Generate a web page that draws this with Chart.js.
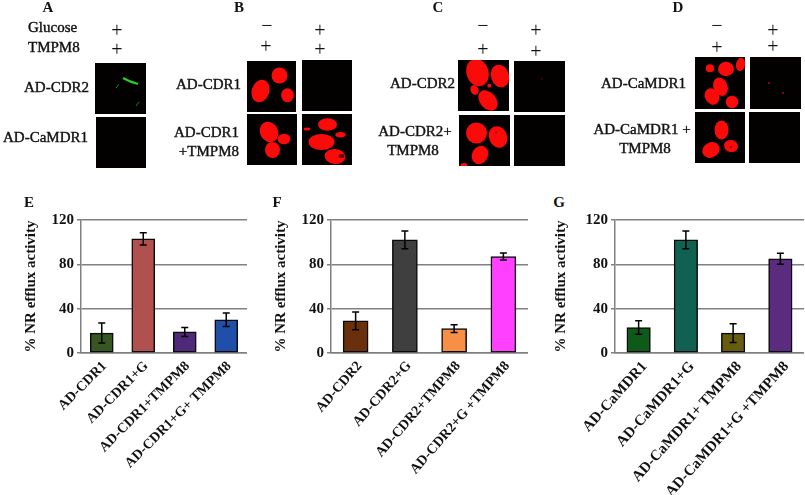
<!DOCTYPE html>
<html>
<head>
<meta charset="utf-8">
<script src="https://cdn.jsdelivr.net/npm/chart.js@4"></script>
<style>
  html, body { margin: 0; padding: 0; background: #fff; }
  #page { position: relative; width: 805px; height: 495px; overflow: hidden; font-family: "Liberation Serif", serif; color: #111; }
  #page canvas { position: absolute; }
  .t { position: absolute; white-space: nowrap; line-height: 1; font-size: 15px; -webkit-text-stroke: 0.4px #111; }
  .c { transform: translateX(-50%); text-align: center; }
  .r { transform: translateX(-100%); text-align: right; }
  .h { font-weight: bold; font-size: 15px; -webkit-text-stroke: 0; }
  .s { font-size: 15px; }
  .p { font-size: 20px; -webkit-text-stroke: 0; }
</style>
</head>
<body>
<div id="page">
  <canvas id="cells" width="805" height="180" style="left:0;top:0"></canvas>

  <div class="t h c" style="left:48px;top:0px">A</div>
  <div class="t h c" style="left:239px;top:0px">B</div>
  <div class="t h c" style="left:438px;top:0px">C</div>
  <div class="t h c" style="left:678px;top:0px">D</div>

  <div class="t s" style="left:28px;top:20px">Glucose</div>
  <div class="t s" style="left:28px;top:40px">TMPM8</div>
  <div class="t p c" style="left:117px;top:20px">+</div>
  <div class="t p c" style="left:117px;top:39px">+</div>
  <div class="t r" style="left:89px;top:80px">AD-CDR2</div>
  <div class="t r" style="left:88px;top:130px">AD-CaMDR1</div>

  <div class="t p c" style="left:267px;top:15px">−</div>
  <div class="t p c" style="left:266px;top:36px">+</div>
  <div class="t p c" style="left:320px;top:20px">+</div>
  <div class="t p c" style="left:320px;top:39px">+</div>
  <div class="t r" style="left:241px;top:77px">AD-CDR1</div>
  <div class="t r" style="left:239px;top:125px">AD-CDR1</div>
  <div class="t r" style="left:239px;top:144px">+TMPM8</div>

  <div class="t p c" style="left:483px;top:15px">−</div>
  <div class="t p c" style="left:483px;top:39px">+</div>
  <div class="t p c" style="left:536px;top:20px">+</div>
  <div class="t p c" style="left:536px;top:41px">+</div>
  <div class="t r" style="left:455px;top:76px">AD-CDR2</div>
  <div class="t c" style="left:415px;top:124px">AD-CDR2+</div>
  <div class="t c" style="left:413px;top:143px">TMPM8</div>

  <div class="t p c" style="left:717px;top:15px">−</div>
  <div class="t p c" style="left:717px;top:37px">+</div>
  <div class="t p c" style="left:773px;top:20px">+</div>
  <div class="t p c" style="left:773px;top:36px">+</div>
  <div class="t r" style="left:686px;top:76px">AD-CaMDR1</div>
  <div class="t c" style="left:642px;top:122px">AD-CaMDR1 +</div>
  <div class="t c" style="left:645px;top:141px">TMPM8</div>

  <div class="t h c" style="left:29px;top:195px">E</div>
  <div class="t h c" style="left:277px;top:195px">F</div>
  <div class="t h c" style="left:559px;top:195px">G</div>

  <canvas id="chartE" style="left:22px;top:208px"></canvas>
  <canvas id="chartF" style="left:272px;top:208px"></canvas>
  <canvas id="chartG" style="left:552px;top:208px"></canvas>
</div>

<script>
// panel E
const labelsE = ['AD-CDR1', 'AD-CDR1+G', 'AD-CDR1+TMPM8', 'AD-CDR1+G+ TMPM8']
const valuesE = [18, 103, 19, 30]
const errorsE = [9, 5.5, 4, 6]
const colorsE = ['#375623', '#b0504f', '#50297a', '#1f4fa8']

// panel F
const labelsF = ['AD-CDR2', 'AD-CDR2+G', 'AD-CDR2+TMPM8', 'AD-CDR2+G +TMPM8']
const valuesF = [29, 102, 22, 87]
const errorsF = [8, 8, 3.5, 3.2]
const colorsF = ['#6a2f0b', '#3f3f3f', '#f79046', '#ff40ff']

// panel G
const labelsG = ['AD-CaMDR1', 'AD-CaMDR1+G', 'AD-CaMDR1+ TMPM8', 'AD-CaMDR1+G +TMPM8']
const valuesG = [23, 102, 18, 85]
const errorsG = [6, 8, 8.5, 5]
const colorsG = ['#0f5a18', '#116152', '#665d0e', '#5a2b7e']

const yTicks = [0, 40, 80, 120]
const yTitle = '% NR efflux activity'

const errorBars = {
  id: 'errorBars',
  afterDatasetsDraw(chart, args, opts) {
    const ctx = chart.ctx
    const y = chart.scales.y
    chart.getDatasetMeta(0).data.forEach((bar, i) => {
      const v = chart.data.datasets[0].data[i]
      const top = y.getPixelForValue(v + opts.errors[i])
      const bottom = y.getPixelForValue(v - opts.errors[i])
      ctx.save()
      ctx.strokeStyle = '#000'
      ctx.lineWidth = 1.5
      ctx.beginPath()
      ctx.moveTo(bar.x, top)
      ctx.lineTo(bar.x, bottom)
      ctx.moveTo(bar.x - 3.5, top)
      ctx.lineTo(bar.x + 3.5, top)
      ctx.moveTo(bar.x - 3.5, bottom)
      ctx.lineTo(bar.x + 3.5, bottom)
      ctx.stroke()
      ctx.restore()
    })
  }
}

function barPanel(id, labels, values, errors, colors, w, axisLeft, thickness, rotation, labelSize, labelShift) {
  const canvas = document.getElementById(id)
  canvas.width = w
  canvas.height = 287
  canvas.style.width = w + 'px'
  canvas.style.height = '287px'
  return new Chart(canvas, {
    type: 'bar',
    plugins: [errorBars],
    data: {
      labels: labels,
      datasets: [{
        data: values,
        backgroundColor: colors,
        borderColor: '#0a0a0a',
        borderWidth: 1.5,
        borderSkipped: false,
        barThickness: thickness
      }]
    },
    options: {
      responsive: false,
      animation: false,
      layout: { padding: { top: 10, left: 0, right: 0, bottom: 0 } },
      plugins: {
        legend: { display: false },
        tooltip: { enabled: false },
        errorBars: { errors: errors }
      },
      scales: {
        x: {
          afterFit(scale) { scale.height = 142 },
          grid: { display: false },
          border: { color: '#808080', width: 1.5 },
          ticks: {
            autoSkip: false,
            minRotation: rotation,
            maxRotation: rotation,
            padding: -3,
            labelOffset: labelShift,
            color: '#111',
            font: { family: 'Liberation Serif', size: labelSize, weight: 'bold' }
          }
        },
        y: {
          min: 0,
          max: 120,
          afterFit(scale) { scale.width = axisLeft },
          afterBuildTicks(scale) { scale.ticks = yTicks.map((v) => ({ value: v })) },
          grid: { color: '#808080', lineWidth: 1.5, tickLength: 4 },
          border: { color: '#808080', width: 1.5 },
          title: {
            display: true,
            text: yTitle,
            color: '#111',
            padding: 0,
            font: { family: 'Liberation Serif', size: 15, weight: 'bold' }
          },
          ticks: {
            padding: 3,
            color: '#111',
            font: { family: 'Liberation Serif', size: 15, weight: 'bold' }
          }
        }
      }
    }
  })
}

barPanel('chartE', labelsE, valuesE, errorsE, colorsE, 225, 59, 23, 45, 14, 3)
barPanel('chartF', labelsF, valuesF, errorsF, colorsF, 256, 59, 25, 49, 14, 4)
barPanel('chartG', labelsG, valuesG, errorsG, colorsG, 252, 63, 23.5, 48, 15, 6)

// the micrograph squares above the charts, just a sketch of the photos
const ctx = document.getElementById('cells').getContext('2d')
const squares = [
  [95, 63, 51, 51], [96, 117, 50, 51],
  [247, 61, 49, 51], [302, 60, 50, 51], [247, 114, 50, 51], [302, 114, 50, 51],
  [458, 60, 51, 51], [514, 61, 51, 51], [459, 115, 51, 51], [514, 115, 51, 51],
  [695, 57, 50, 52], [750, 57, 51, 52], [695, 112, 50, 51], [749, 112, 51, 51]
]
const redCells = [
  [260.5, 91, 8.8, 11.5, 0.3], [279.5, 75.5, 8, 8, 0], [287.5, 95.3, 6.3, 7, 0],
  [269, 132, 9, 10.5, -0.5], [284, 139, 6.5, 5.2, 0], [272.5, 150, 7.5, 8, 0],
  [327.5, 124.5, 9.5, 6.2, 0], [321.5, 142, 13, 8, 0], [335, 156.5, 10.5, 7.5, 0.1], [340.5, 134.7, 5.3, 2.8, 0], [307, 129, 3.3, 1.5, 0],
  [477.5, 72.5, 11, 14, -0.3], [500, 76, 9, 11.5, -0.3], [474.5, 90, 4, 5, -0.4], [488, 100.5, 8, 11.5, -0.7], [489.3, 85.7, 2, 2, 0],
  [476.5, 133, 10.5, 10.5, 0], [498, 137, 9, 11, -0.4], [480, 155, 8, 9.5, 0.5], [464, 165, 3.5, 2, 0],
  [710, 68.3, 4.2, 4, 0], [726, 69, 8, 7.2, 0], [740.5, 64.5, 4.5, 6.7, 0.2], [720.5, 86.7, 7, 9.5, -0.4], [712, 96.5, 7, 8.5, -0.5], [732, 102, 6.3, 6.2, 0],
  [721.5, 130, 7, 9.5, 0], [711, 150, 9, 7.5, -0.5], [731, 146, 7, 6, 0.2]
]
const darkSpots = [
  [341.5, 156, 3, 2, 'rgba(90,0,0,0.9)'], [496, 132.5, 1, 1, 'rgba(120,0,0,0.8)'], [731, 147, 1, 1, 'rgba(120,0,0,0.8)'],
  [769, 83, 1, 1, '#a01414'], [783, 93, 1, 1, '#a01414'], [542, 79, 1.5, 1.5, '#2a0505']
]

ctx.fillStyle = '#030000'
squares.forEach((s) => ctx.fillRect(s[0], s[1], s[2], s[3]))
ctx.beginPath()
squares.forEach((s) => ctx.rect(s[0], s[1], s[2], s[3]))
ctx.clip()
ctx.filter = 'blur(0.5px)'
ctx.fillStyle = '#fb0a0a'
redCells.forEach((c) => {
  ctx.beginPath()
  ctx.ellipse(c[0], c[1], c[2], c[3], c[4], 0, Math.PI * 2)
  ctx.fill()
})
darkSpots.forEach((d) => {
  ctx.fillStyle = d[4]
  ctx.beginPath()
  ctx.ellipse(d[0], d[1], d[2], d[3], 0, 0, Math.PI * 2)
  ctx.fill()
})
// green streaks in panel A
ctx.strokeStyle = '#23d028'
ctx.lineWidth = 2.2
ctx.beginPath()
ctx.moveTo(123, 78)
ctx.quadraticCurveTo(130, 82, 138, 84)
ctx.stroke()
ctx.strokeStyle = '#128a18'
ctx.lineWidth = 1
ctx.beginPath()
ctx.moveTo(116, 88)
ctx.lineTo(119, 84)
ctx.moveTo(136, 106)
ctx.lineTo(139, 102)
ctx.stroke()
ctx.filter = 'none'
</script>
</body>
</html>
